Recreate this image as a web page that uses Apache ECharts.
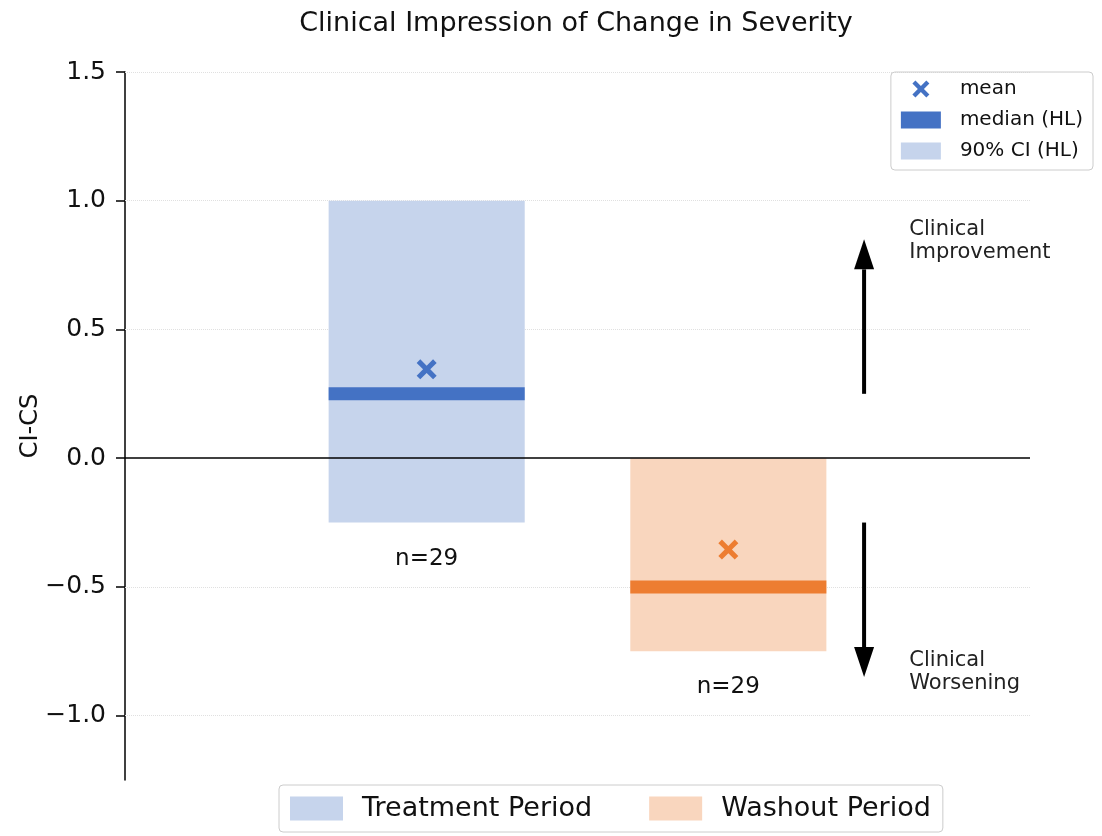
<!DOCTYPE html>
<html>
<head>
<meta charset="utf-8">
<title>Clinical Impression of Change in Severity</title>
<script src="https://cdn.jsdelivr.net/npm/echarts@6/dist/echarts.min.js"></script>
<style>
  html, body { margin: 0; padding: 0; background: #fff; }
  #chart { width: 1102px; height: 836px; }
</style>
</head>
<body>
<div id="chart"></div>
<script>
// data
var periods = ['Treatment Period', 'Washout Period'];
var periodPos = [0, 1];
var ciLow = [-0.25, -0.75];
var ciHigh = [1.0, 0.0];
var medians = [0.25, -0.5];
var means = [0.345, -0.355];
var nLabels = ['n=29', 'n=29'];
var yTicks = [-1.0, -0.5, 0.0, 0.5, 1.0, 1.5];
var gridTicks = [-1.0, -0.5, 0.5, 1.0, 1.5];
var arrowFrom = [0.25, -0.25];
var arrowTo = [0.85, -0.85];
var arrowText = ['Clinical\nImprovement', 'Clinical\nWorsening'];
var arrowTextY = [0.845, -0.83];

// styles
var darkColors = ['#4472C4', '#ED7D31'];
var lightColors = ['#C6D4EC', '#F9D6BE'];
var FONT = 'DejaVu Sans';
var boxHalf = 0.325;
var arrowX = 1.45;
var arrowTextX = 1.6;
var xPath = 'path://M0,1.8L1.8,0L5,3.2L8.2,0L10,1.8L6.8,5L10,8.2L8.2,10L5,6.8L1.8,10L0,8.2L3.2,5Z';

function fmtTick(v) {
    return v.toFixed(1).replace('-', '\u2212');
}

var chart = echarts.init(document.getElementById('chart'));

var option = {
    animation: false,
    backgroundColor: '#fff',
    title: {
        text: 'Clinical Impression of Change in Severity',
        left: 576,
        top: 10,
        padding: 0,
        textAlign: 'center',
        textStyle: { fontFamily: FONT, fontSize: 27, fontWeight: 'normal', color: '#111' }
    },
    grid: { left: 125, right: 72, top: 72, bottom: 56 },
    legend: [
        {
            data: [
                { name: 'mean', icon: xPath },
                { name: 'median (HL)', icon: 'rect' },
                { name: '90% CI (HL)', icon: 'rect' }
            ],
            orient: 'vertical',
            right: 9,
            top: 72,
            padding: [7, 10, 9, 10],
            itemWidth: 40,
            itemHeight: 17,
            itemGap: 11,
            borderColor: '#ccc',
            borderWidth: 1,
            borderRadius: 4,
            selectedMode: false,
            textStyle: { fontFamily: FONT, fontSize: 20, color: '#111', padding: [0, 0, 0, 14] }
        },
        {
            data: [
                { name: periods[0], icon: 'rect' },
                { name: periods[1], icon: 'rect' }
            ],
            orient: 'horizontal',
            left: 279,
            top: 785,
            padding: [10, 12, 10, 11],
            itemWidth: 53,
            itemHeight: 24,
            itemGap: 57,
            borderColor: '#ccc',
            borderWidth: 1,
            borderRadius: 4,
            selectedMode: false,
            textStyle: { fontFamily: FONT, fontSize: 27, color: '#111', padding: [0, 0, 0, 14] }
        }
    ],
    xAxis: {
        type: 'value',
        min: -1,
        max: 2,
        show: false
    },
    yAxis: {
        type: 'value',
        min: -1.25,
        max: 1.5,
        name: 'CI-CS',
        nameLocation: 'middle',
        nameGap: 82,
        nameMoveOverlap: false,
        nameTextStyle: { fontFamily: FONT, fontSize: 24, color: '#111' },
        axisLine: { show: true, onZero: false, lineStyle: { color: '#000', width: 1.5 } },
        axisTick: { show: true, length: 9, customValues: yTicks, lineStyle: { color: '#000', width: 1.5 } },
        axisLabel: {
            customValues: yTicks,
            fontFamily: FONT,
            fontSize: 25,
            color: '#111',
            margin: 19,
            formatter: fmtTick
        },
        splitLine: { show: false }
    },
    series: [
        {
            // faint grid lines
            name: 'grid',
            type: 'line',
            data: [],
            z: 1,
            markLine: {
                silent: true,
                z: 1,
                symbol: 'none',
                label: { show: false },
                lineStyle: { color: '#e0e0e0', type: 'dotted', width: 1 },
                data: gridTicks.map(function (v) { return { yAxis: v }; })
            }
        },
        {
            name: '90% CI (HL)',
            type: 'custom',
            z: 2,
            itemStyle: { color: lightColors[0] },
            data: periodPos.map(function (p, i) { return [p, ciLow[i], ciHigh[i]]; }),
            renderItem: function (params, api) {
                var x = api.value(0);
                var a = api.coord([x - boxHalf, api.value(2)]);
                var b = api.coord([x + boxHalf, api.value(1)]);
                return {
                    type: 'rect',
                    shape: { x: a[0], y: a[1], width: b[0] - a[0], height: b[1] - a[1] },
                    style: { fill: lightColors[params.dataIndex] }
                };
            }
        },
        {
            name: periods[0],
            type: 'custom',
            itemStyle: { color: lightColors[0] },
            data: [],
            renderItem: function () { return null; }
        },
        {
            name: periods[1],
            type: 'custom',
            itemStyle: { color: lightColors[1] },
            data: [],
            renderItem: function () { return null; }
        },
        {
            // zero line on top of the boxes
            name: 'zero',
            type: 'line',
            data: [],
            z: 3,
            markLine: {
                silent: true,
                z: 3,
                symbol: 'none',
                label: { show: false },
                lineStyle: { color: '#000', type: 'solid', width: 1.5 },
                data: [{ yAxis: 0 }]
            }
        },
        {
            name: 'median (HL)',
            type: 'custom',
            z: 4,
            itemStyle: { color: darkColors[0] },
            data: periodPos.map(function (p, i) { return [p, medians[i]]; }),
            renderItem: function (params, api) {
                var x = api.value(0), m = api.value(1);
                var a = api.coord([x - boxHalf, m]);
                var b = api.coord([x + boxHalf, m]);
                return {
                    type: 'line',
                    shape: { x1: a[0], y1: a[1], x2: b[0], y2: b[1] },
                    style: { stroke: darkColors[params.dataIndex], lineWidth: 13, lineCap: 'butt' }
                };
            }
        },
        {
            name: 'mean',
            type: 'scatter',
            z: 5,
            symbol: xPath,
            symbolSize: 20,
            symbolKeepAspect: true,
            itemStyle: { color: darkColors[0], opacity: 1 },
            data: periodPos.map(function (p, i) {
                return { value: [p, means[i]], itemStyle: { color: darkColors[i], opacity: 1 } };
            })
        },
        {
            name: 'n',
            type: 'custom',
            z: 5,
            data: periodPos.map(function (p, i) { return [p, ciLow[i] - 0.14]; }),
            renderItem: function (params, api) {
                var c = api.coord([api.value(0), api.value(1)]);
                return {
                    type: 'text',
                    x: c[0],
                    y: c[1],
                    style: {
                        text: nLabels[params.dataIndex],
                        font: '23px "' + FONT + '"',
                        fill: '#111',
                        align: 'center',
                        verticalAlign: 'middle'
                    }
                };
            }
        },
        {
            name: 'arrows',
            type: 'custom',
            z: 5,
            data: arrowFrom.map(function (f, i) { return [arrowX, f, arrowTo[i]]; }),
            renderItem: function (params, api) {
                var p0 = api.coord([api.value(0), api.value(1)]);
                var p1 = api.coord([api.value(0), api.value(2)]);
                var dir = p1[1] < p0[1] ? -1 : 1;
                var headLen = 30, headW = 10;
                var baseY = p1[1] - dir * headLen;
                return {
                    type: 'group',
                    children: [
                        {
                            type: 'line',
                            shape: { x1: p0[0], y1: p0[1], x2: p0[0], y2: baseY },
                            style: { stroke: '#000', lineWidth: 4 }
                        },
                        {
                            type: 'polygon',
                            shape: { points: [[p1[0], p1[1]], [p1[0] - headW, baseY], [p1[0] + headW, baseY]] },
                            style: { fill: '#000' }
                        }
                    ]
                };
            }
        },
        {
            name: 'arrowText',
            type: 'custom',
            z: 5,
            data: arrowTextY.map(function (y) { return [arrowTextX, y]; }),
            renderItem: function (params, api) {
                var c = api.coord([api.value(0), api.value(1)]);
                return {
                    type: 'text',
                    x: c[0],
                    y: c[1],
                    style: {
                        text: arrowText[params.dataIndex],
                        font: '21px "' + FONT + '"',
                        fill: '#222',
                        lineHeight: 23,
                        align: 'left',
                        verticalAlign: 'middle'
                    }
                };
            }
        }
    ]
};

chart.setOption(option);
</script>
</body>
</html>
